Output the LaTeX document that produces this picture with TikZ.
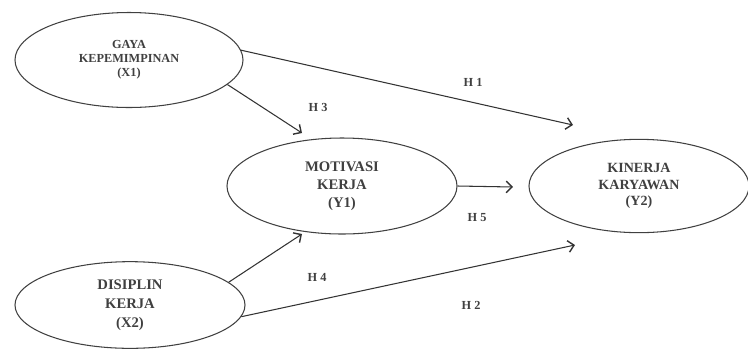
\documentclass[tikz,border=0pt]{standalone}
\usepackage{fontspec}
\setmainfont{Liberation Serif}
\usepackage{tikz}
\usetikzlibrary{shapes.geometric, positioning, arrows.meta}

\begin{document}
\begin{tikzpicture}[x=0.03cm,y=-0.03cm,line width=0.9pt,
       latent/.style={ellipse,draw=black!75,inner sep=0pt,align=center,text=black!75},
       hyp/.style={draw=black!80,-{Straight Barb[length=5pt,width=10pt,line width=1.2pt]}},
       hlabel/.style={font=\bfseries\fontsize{10.5}{12}\selectfont,text=black!75}]
       \useasboundingbox (0,0) rectangle (748,351);
       \node[latent,minimum width=6.84cm,minimum height=2.85cm,font=\bfseries\fontsize{10.5}{12}\selectfont] (X1) at (129,60) {GAYA\\KEPEMIMPINAN\\(X1)};
       \node[latent,minimum width=6.9cm,minimum height=2.88cm,font=\bfseries\fontsize{12.5}{15.5}\selectfont] (Y1) at (342,186) {MOTIVASI\\KERJA\\(Y1)};
       \node[latent,minimum width=6.6cm,minimum height=2.8cm,font=\bfseries\fontsize{12}{14}\selectfont] (Y2) at (639,186) {KINERJA\\KARYAWAN\\(Y2)};
       \node[latent,minimum width=6.9cm,minimum height=2.6cm,font=\bfseries\fontsize{12.5}{16}\selectfont] (X2) at (130,305) {DISIPLIN\\KERJA\\(X2)};

       \coordinate (t1) at (573,125);
       \coordinate (t2) at (575,245);
       \coordinate (t3) at (302,133);
       \coordinate (t4) at (302,234);
       \coordinate (t5) at (513,187);

       \path[hyp] (X1.5) -- (t1);
       \path[hyp] (X2.-6) -- (t2);
       \path[hyp] (X1.-14) -- (t3);
       \path[hyp] (X2.13) -- (t4);
       \path[hyp] (Y1.east) -- (t5);

       \node[hlabel] (h1) at (473,82) {H 1};
       \node[hlabel] (h2) at (471,305) {H 2};
       \node[hlabel] (h3) at (318,107) {H 3};
       \node[hlabel] (h4) at (317,277) {H 4};
       \node[hlabel] (h5) at (477,218) {H 5};
    \end{tikzpicture}
\end{document}
